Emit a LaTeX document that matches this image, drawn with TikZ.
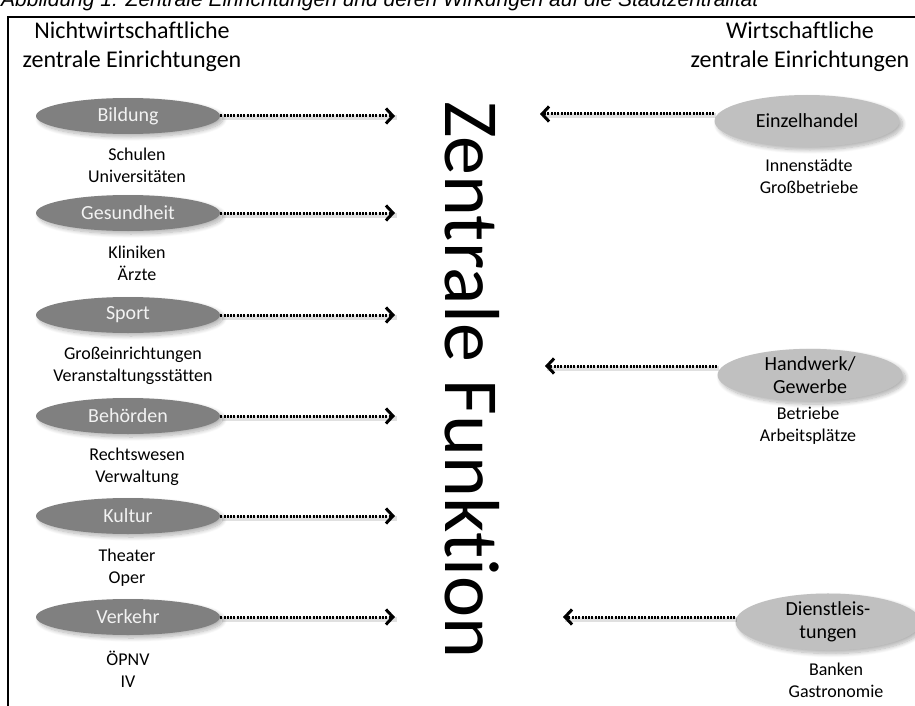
\documentclass[tikz,border=0pt]{standalone}
\usepackage{fontspec}
\setmainfont{Carlito}[Ligatures=NoCommon]
\newfontfamily\capfont{Liberation Sans}
\usetikzlibrary{arrows.meta,shapes.geometric,shadows.blur}

\definecolor{bubbledark}{RGB}{128,128,128}
\definecolor{bubblelight}{RGB}{192,192,192}
\definecolor{bubbletext}{RGB}{242,242,242}

\begin{document}
\begin{tikzpicture}[x=1pt,y=-1pt,
  bubbleshadow/.style={blur shadow={shadow xshift=3pt,shadow yshift=-3pt,
    shadow blur radius=4pt,shadow blur steps=10,shadow opacity=30}},
  darkbubble/.style={ellipse,fill=bubbledark,minimum width=184pt,minimum height=36pt,
    inner sep=0pt,text=bubbletext,font=\fontsize{20}{24}\selectfont,bubbleshadow},
  lightbubble/.style={ellipse,fill=bubblelight,minimum width=185pt,minimum height=52pt,
    inner sep=0pt,align=center,text=black,font=\fontsize{20}{23}\selectfont,bubbleshadow},
  sublabel/.style={align=center,inner sep=0pt,font=\fontsize{18}{22}\selectfont},
  header/.style={align=center,inner sep=0pt,font=\fontsize{24}{29}\selectfont},
  flow/.style={line width=3pt,dash pattern=on 2pt off 1.3pt,
    -{Straight Barb[length=7pt,width=15pt,line width=3pt]},
    preaction={draw=black,opacity=0.12,line width=5pt,solid,-,
      transform canvas={shift={(1.5pt,-2pt)}}}},
]
\useasboundingbox (0,0) rectangle (915,706);
\clip (0,0) rectangle (915,706);

% caption running across the top edge
\node[anchor=base west,inner sep=0pt,font=\capfont\itshape\fontsize{21}{24}\selectfont]
  (caption) at (1,7) {Abbildung 1: Zentrale Einrichtungen und deren Wirkungen auf die Stadtzentralität};

% frame
\draw[line width=2pt] (8,710) -- (8,17) -- (920,17);

% column headers
\node[header] (hleft) at (132,47) {Nichtwirtschaftliche\\zentrale Einrichtungen};
\node[header] (hright) at (800,47) {Wirtschaftliche\\zentrale Einrichtungen};

% central label
\node[rotate=-90,inner sep=0pt,font=\fontsize{78}{80}\selectfont] (zf) at (472,380) {Zentrale Funktion};

% non-economic facilities
\node[darkbubble] (bildung)    at (128,116) {Bildung};
\node[darkbubble] (gesundheit) at (128,213) {Gesundheit};
\node[darkbubble] (sport)      at (128,315) {Sport};
\node[darkbubble] (behoerden)  at (128,416) {Behörden};
\node[darkbubble] (kultur)     at (128,516) {Kultur};
\node[darkbubble] (verkehr)    at (128,617) {Verkehr};

\node[sublabel] (sbildung)    at (137,165) {Schulen\\Universitäten};
\node[sublabel] (sgesundheit) at (137,263) {Kliniken\\Ärzte};
\node[sublabel] (ssport)      at (133,366) {Großeinrichtungen\\Veranstaltungsstätten};
\node[sublabel] (sbehoerden)  at (137,467) {Rechtswesen\\Verwaltung};
\node[sublabel] (skultur)     at (127,568) {Theater\\Oper};
\node[sublabel] (sverkehr)    at (128,669) {ÖPNV\\IV};

\coordinate (lt1) at (395,116);
\coordinate (lt2) at (395,213);
\coordinate (lt3) at (395,315);
\coordinate (lt4) at (395,416);
\coordinate (lt5) at (395,516);
\coordinate (lt6) at (395,617);

\draw[flow] (bildung.east)    -- (lt1);
\draw[flow] (gesundheit.east) -- (lt2);
\draw[flow] (sport.east)      -- (lt3);
\draw[flow] (behoerden.east)  -- (lt4);
\draw[flow] (kultur.east)     -- (lt5);
\draw[flow] (verkehr.east)    -- (lt6);

% economic facilities
\node[lightbubble] (einzel)  at (807,121) {Einzelhandel};
\node[lightbubble] (handwerk) at (810,375) {Handwerk/\\Gewerbe};
\node[lightbubble] (dienst)  at (828,622) {Dienstleis-\\tungen};

\node[sublabel] (seinzel)   at (809,176) {Innenstädte\\Großbetriebe};
\node[sublabel] (shandwerk) at (808,426) {Betriebe\\Arbeitsplätze};
\node[sublabel] (sdienst)   at (836,680) {Banken\\Gastronomie};

\coordinate (rt1) at (540,114);
\coordinate (rt2) at (545,366);
\coordinate (rt3) at (563,617);

\draw[flow] (einzel.west |- rt1)   -- (rt1);
\draw[flow] (handwerk.west |- rt2) -- (rt2);
\draw[flow] (dienst.west |- rt3)   -- (rt3);
\end{tikzpicture}
\end{document}
